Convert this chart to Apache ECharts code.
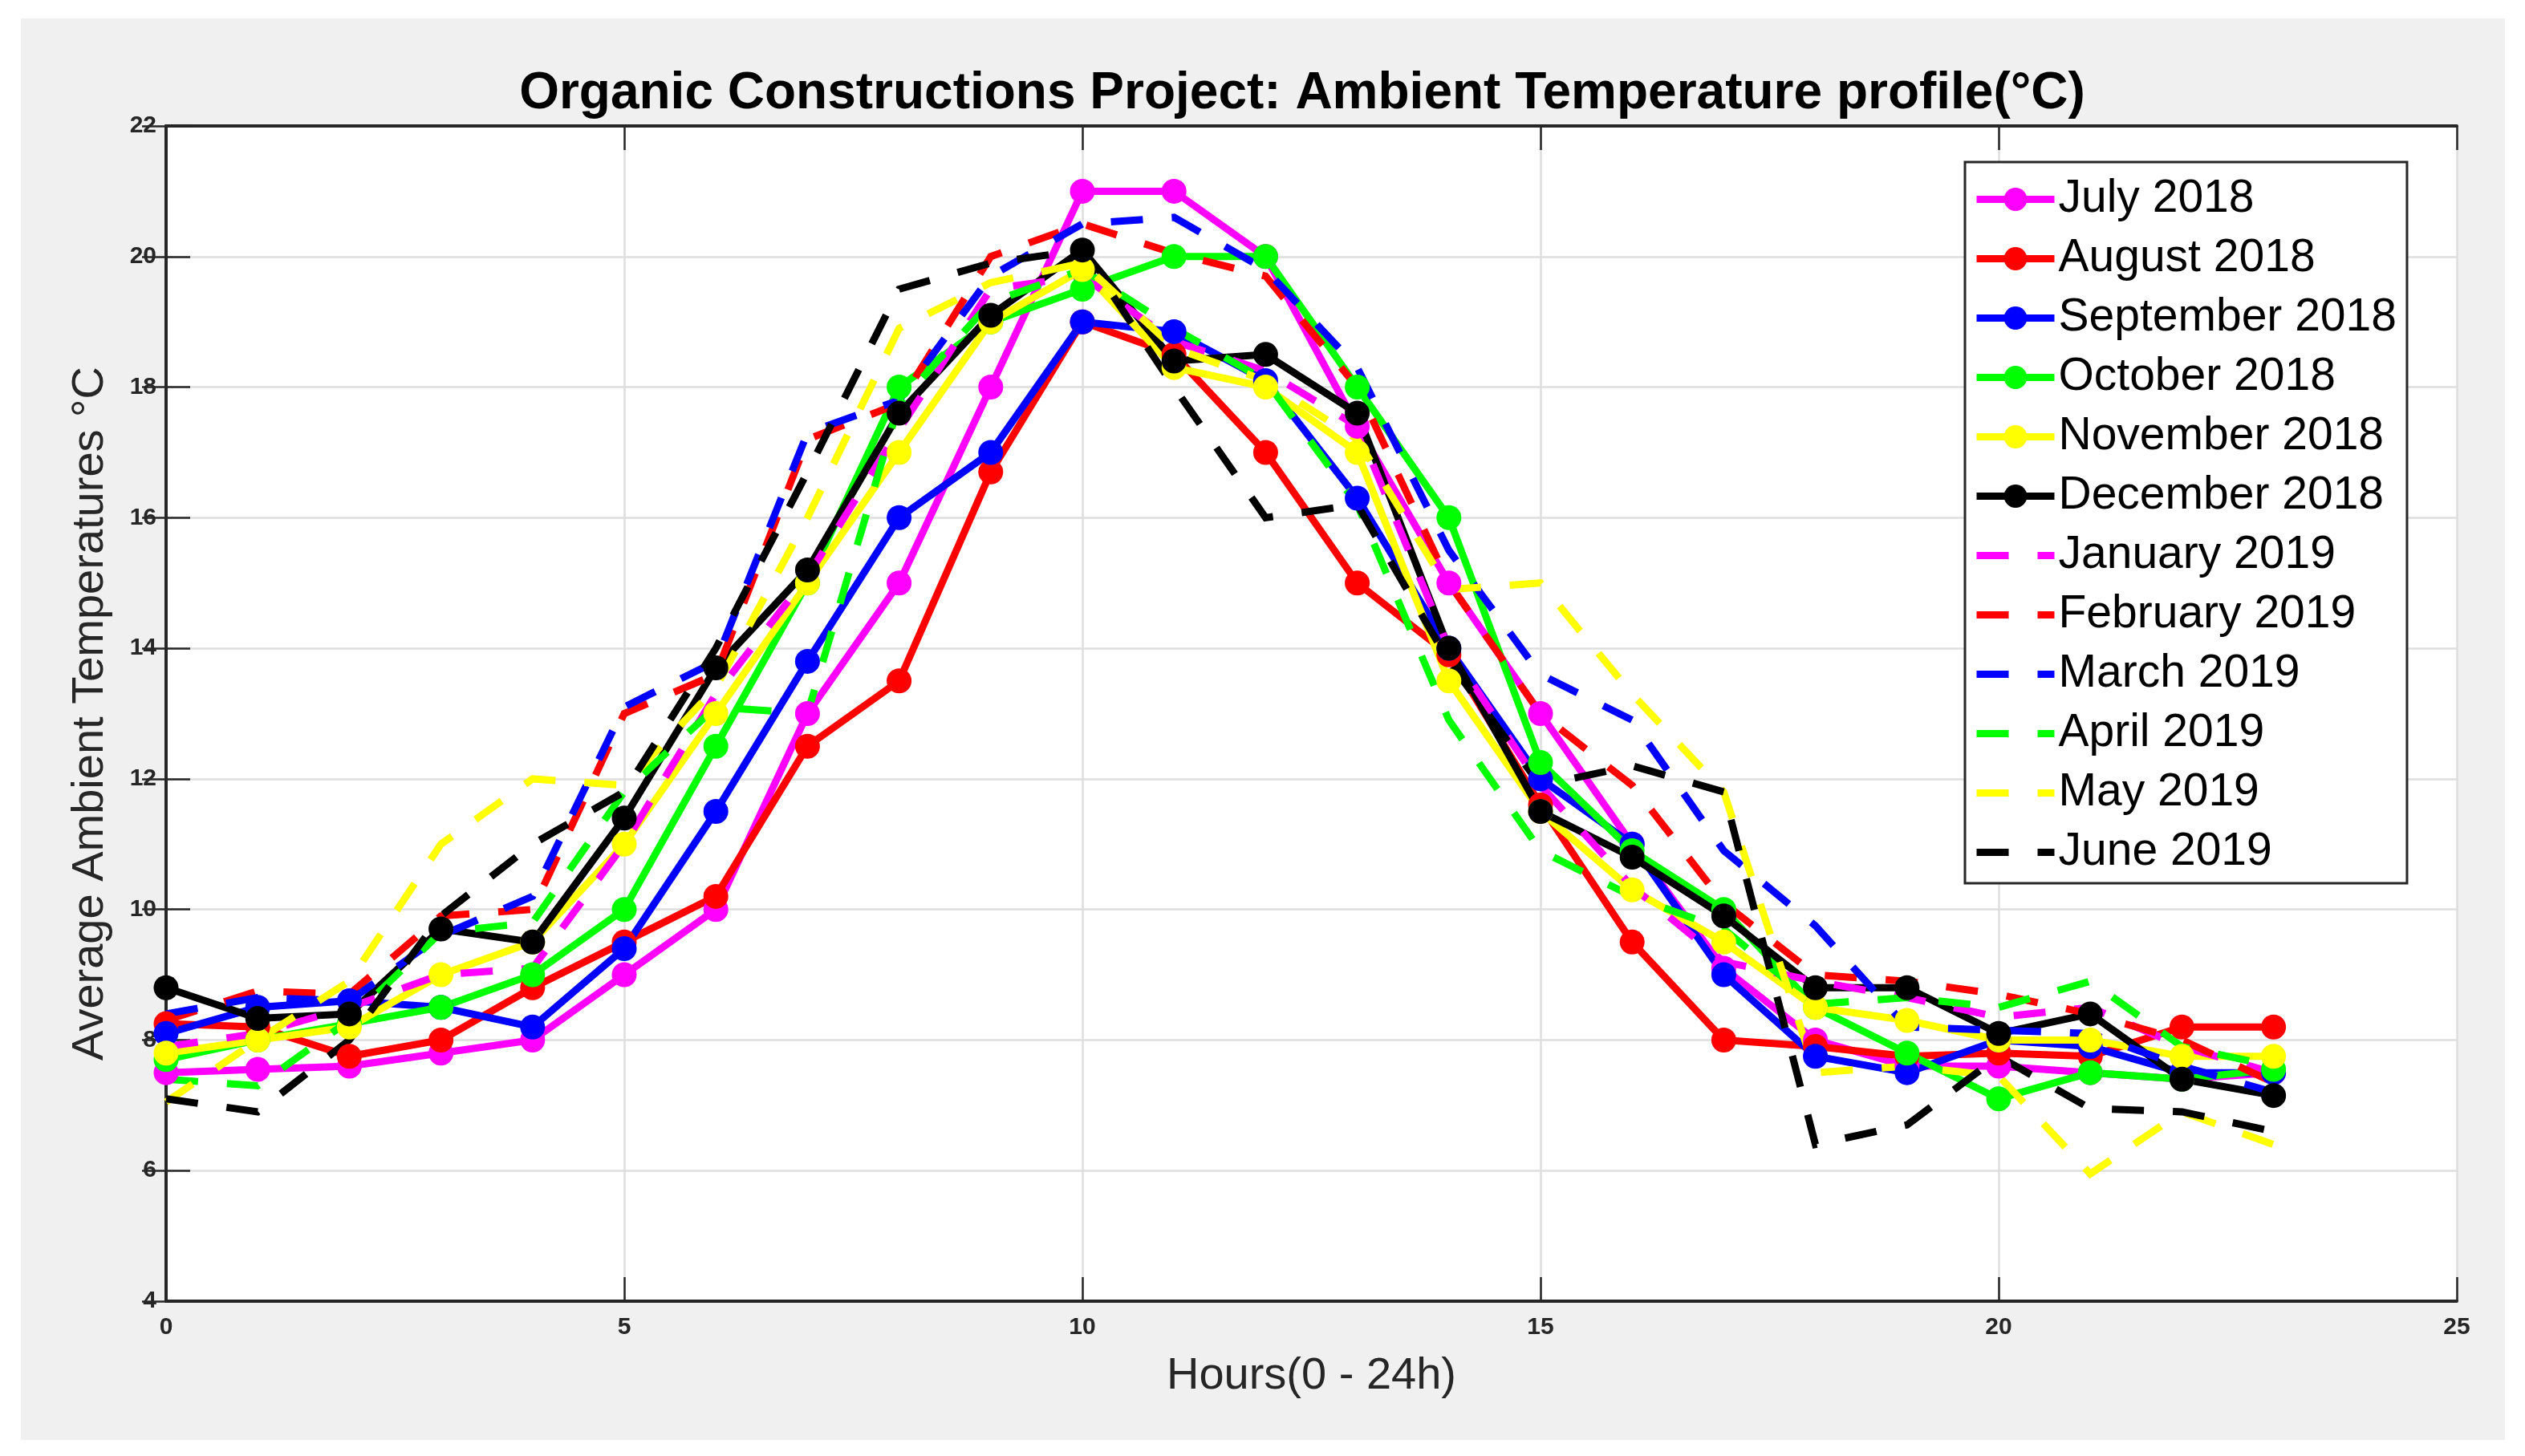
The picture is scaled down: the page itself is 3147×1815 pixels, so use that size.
<!DOCTYPE html>
<html>
<head>
<meta charset="utf-8">
<script src="https://cdn.jsdelivr.net/npm/echarts@6/dist/echarts.min.js"></script>
<style>
  html, body { margin: 0; padding: 0; background: #ffffff; }
  #bg { position: absolute; left: 26px; top: 23px; width: 3096px; height: 1772px; background: #f0f0f0; }
  #chart { position: absolute; left: 0; top: 0; width: 3147px; height: 1815px; }
</style>
</head>
<body>
<div id="bg"></div>
<div id="chart"></div>
<script>
const hours = [0,1,2,3,4,5,6,7,8,9,10,11,12,13,14,15,16,17,18,19,20,21,22,23];

const july2018 = [7.5,7.55,7.6,7.8,8.0,9.0,10.0,13.0,15.0,18.0,21.0,21.0,20.0,17.4,15.0,13.0,11.0,9.1,8.0,7.6,7.6,7.5,7.4,7.5];
const august2018 = [8.25,8.2,7.75,8.0,8.8,9.5,10.2,12.5,13.5,16.7,19.0,18.5,17.0,15.0,13.9,11.6,9.5,8.0,7.9,7.75,7.8,7.75,8.2,8.2];
const september2018 = [8.1,8.5,8.6,8.5,8.2,9.4,11.5,13.8,16.0,17.0,19.0,18.85,18.1,16.3,14.0,12.0,11.0,9.0,7.75,7.5,8.0,7.9,7.5,7.5];
const october2018 = [7.7,8.0,8.25,8.5,9.0,10.0,12.5,15.0,18.0,19.0,19.5,20.0,20.0,18.0,16.0,12.25,10.9,10.0,8.5,7.8,7.1,7.5,7.4,7.55];
const november2018 = [7.8,8.0,8.2,9.0,9.5,11.0,13.0,15.0,17.0,19.0,19.8,18.3,18.0,17.0,13.5,11.5,10.3,9.5,8.5,8.3,8.0,8.0,7.75,7.75];
const december2018 = [8.8,8.33,8.4,9.7,9.5,11.4,13.7,15.2,17.6,19.1,20.1,18.4,18.5,17.6,14.0,11.5,10.8,9.9,8.8,8.8,8.1,8.4,7.4,7.15];
const january2019 = [7.9,8.1,8.5,9.0,9.1,11.0,13.3,15.1,17.35,19.5,19.7,18.7,18.25,17.4,14.0,11.9,10.35,9.2,8.9,8.65,8.35,8.5,7.9,7.5];
const february2019 = [8.3,8.75,8.7,9.9,10.0,13.0,13.6,17.2,17.75,20.0,20.5,20.05,19.7,18.0,15.0,13.0,11.9,10.1,9.0,8.9,8.7,8.4,8.0,7.35];
const march2019 = [8.4,8.65,8.6,9.6,10.2,13.1,13.8,17.3,17.8,19.7,20.5,20.6,19.8,18.3,15.5,13.6,12.9,10.9,9.75,8.2,8.15,8.1,7.6,7.2];
const april2019 = [7.4,7.3,8.3,9.65,9.8,11.8,13.1,13.0,17.75,19.3,19.8,18.9,18.1,16.2,12.9,10.9,10.2,9.7,8.55,8.65,8.5,8.9,7.9,7.6];
const may2019 = [7.05,8.0,8.9,11.0,12.0,11.9,13.4,16.0,18.9,19.6,19.9,18.6,18.1,17.2,14.9,15.0,13.3,11.8,7.5,7.6,7.45,5.95,6.9,6.4];
const june2019 = [7.1,6.9,8.0,9.9,11.0,11.8,14.0,16.7,19.5,19.9,20.1,18.0,16.0,16.2,13.8,11.9,12.2,11.8,6.4,6.7,7.75,6.95,6.9,6.6];

const xTicks = { min: 0, max: 25, interval: 5 };
const yTicks = { min: 4, max: 22, interval: 2 };

const seriesDefs = [
  { name: 'July 2018', data: july2018, color: '#ff00ff', dashed: false },
  { name: 'August 2018', data: august2018, color: '#ff0000', dashed: false },
  { name: 'September 2018', data: september2018, color: '#0000ff', dashed: false },
  { name: 'October 2018', data: october2018, color: '#00ff00', dashed: false },
  { name: 'November 2018', data: november2018, color: '#ffff00', dashed: false },
  { name: 'December 2018', data: december2018, color: '#000000', dashed: false },
  { name: 'January 2019', data: january2019, color: '#ff00ff', dashed: true },
  { name: 'February 2019', data: february2019, color: '#ff0000', dashed: true },
  { name: 'March 2019', data: march2019, color: '#0000ff', dashed: true },
  { name: 'April 2019', data: april2019, color: '#00ff00', dashed: true },
  { name: 'May 2019', data: may2019, color: '#ffff00', dashed: true },
  { name: 'June 2019', data: june2019, color: '#000000', dashed: true }
];

const FONT = '"Liberation Sans", Arial, Helvetica, sans-serif';
const AXC = '#262626';
const DASH = [40, 36];

const series = seriesDefs.map(d => ({
  name: d.name,
  type: 'line',
  xAxisIndex: 0,
  yAxisIndex: 0,
  data: hours.map((h, i) => [h, d.data[i]]),
  symbol: d.dashed ? 'none' : 'circle',
  symbolSize: 31,
  showSymbol: !d.dashed,
  itemStyle: { color: d.color },
  lineStyle: {
    color: d.color,
    width: 9,
    type: d.dashed ? DASH : 'solid',
    cap: 'butt',
    join: 'miter'
  },
  emphasis: { disabled: true },
  animation: false
}));

const legendData = seriesDefs.map(d => ({
  name: d.name,
  itemStyle: d.dashed ? { color: d.color, opacity: 0 } : { color: d.color },
  lineStyle: { color: d.color, width: 9, type: d.dashed ? DASH : 'solid', cap: 'butt' }
}));

const tickStyle = { show: true, inside: true, length: 30, lineStyle: { color: AXC, width: 2.5 } };
const axisLineStyle = { show: true, lineStyle: { color: AXC, width: 4 } };
const splitStyle = { show: true, lineStyle: { color: '#dedede', width: 2.5 } };

const chart = echarts.init(document.getElementById('chart'), null, { renderer: 'canvas' });
chart.setOption({
  backgroundColor: 'transparent',
  animation: false,
  title: {
    text: 'Organic Constructions Project: Ambient Temperature profile(°C)',
    left: 1618,
    textAlign: 'center',
    top: 80,
    textStyle: { fontFamily: FONT, fontSize: 64, fontWeight: 'bold', color: '#000' }
  },
  legend: {
    orient: 'vertical',
    left: 2449,
    top: 202,
    backgroundColor: '#ffffff',
    borderColor: AXC,
    borderWidth: 3,
    borderRadius: 0,
    padding: [18, 13, 10, 10],
    itemWidth: 97,
    itemHeight: 36,
    itemGap: 17,
    lineStyle: { width: 9 },
    textStyle: { fontFamily: FONT, fontSize: 57, lineHeight: 56, color: '#000' },
    data: legendData
  },
  grid: {
    left: 207,
    right: 85,
    top: 157,
    bottom: 193,
    show: true,
    backgroundColor: '#ffffff',
    borderWidth: 0
  },
  xAxis: [
    {
      type: 'value', position: 'bottom',
      min: xTicks.min, max: xTicks.max, interval: xTicks.interval,
      name: 'Hours(0 - 24h)', nameLocation: 'middle', nameGap: 66,
      nameTextStyle: { fontFamily: FONT, fontSize: 56, color: AXC },
      axisLine: axisLineStyle, axisTick: tickStyle, splitLine: splitStyle,
      axisLabel: { fontFamily: FONT, fontSize: 30, fontWeight: 'bold', color: AXC, margin: 18 }
    },
    {
      type: 'value', position: 'top',
      min: xTicks.min, max: xTicks.max, interval: xTicks.interval,
      axisLine: axisLineStyle, axisTick: tickStyle, splitLine: { show: false },
      axisLabel: { show: false }
    }
  ],
  yAxis: [
    {
      type: 'value', position: 'left',
      min: yTicks.min, max: yTicks.max, interval: yTicks.interval,
      name: 'Average Ambient Temperatures °C', nameLocation: 'middle', nameGap: 66, nameRotate: 90,
      nameTextStyle: { fontFamily: FONT, fontSize: 56, color: AXC },
      axisLine: axisLineStyle, axisTick: tickStyle, splitLine: splitStyle,
      axisLabel: { fontFamily: FONT, fontSize: 30, fontWeight: 'bold', color: AXC, margin: 12 }
    },
    {
      type: 'value', position: 'right',
      min: yTicks.min, max: yTicks.max, interval: yTicks.interval,
      axisLine: axisLineStyle, axisTick: tickStyle, splitLine: { show: false },
      axisLabel: { show: false }
    }
  ],
  series: series
});
</script>
</body>
</html>
